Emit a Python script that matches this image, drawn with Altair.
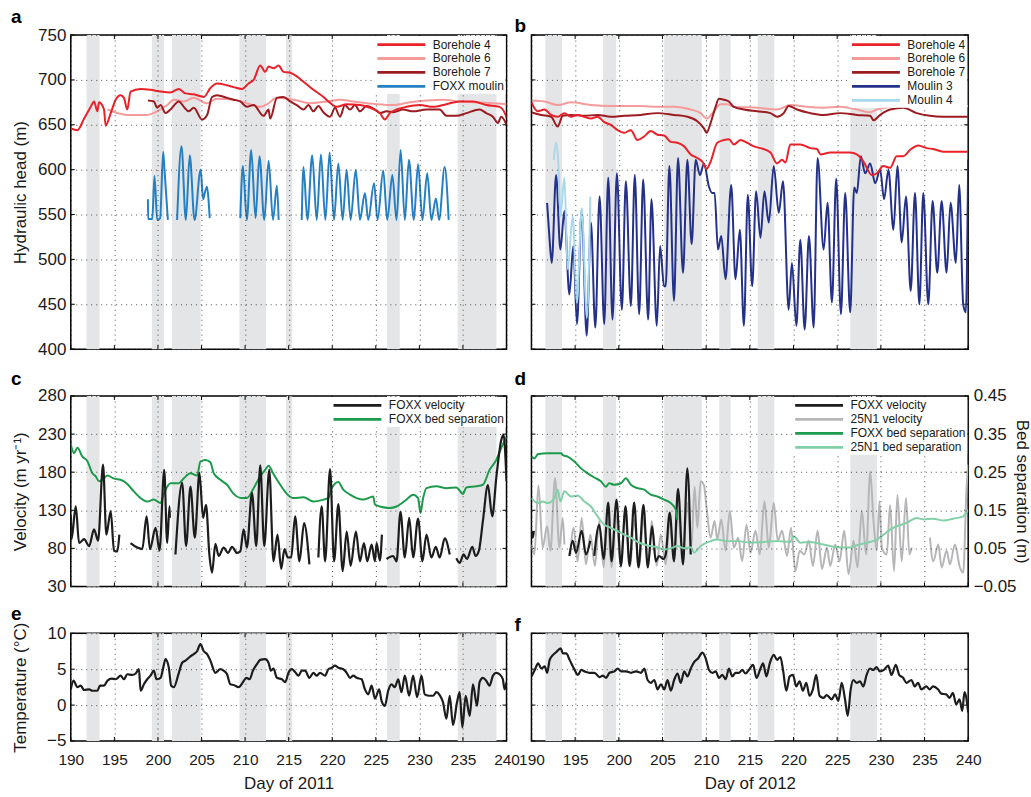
import altair as alt
import pandas as pd

FONT = "Liberation Sans"

# ---------------- axis ticks ----------------
X_TICKS = [190, 195, 200, 205, 210, 215, 220, 225, 230, 235, 240]
HEAD_TICKS = [400, 450, 500, 550, 600, 650, 700, 750]
VEL_TICKS = [30, 80, 130, 180, 230, 280]
BS_TICKS = [-0.05, 0.05, 0.15, 0.25, 0.35, 0.45]
TEMP_TICKS = [-5, 0, 5, 10]

# ---------------- shaded periods ----------------
BAND11_START = [191.8, 199.3, 201.6, 209.35, 214.7, 226.3, 234.4]
BAND11_END = [193.3, 200.7, 204.9, 212.4, 215.4, 227.75, 238.85]
BAND12_START = [191.6, 198.2, 205.2, 211.5, 215.9, 226.5]
BAND12_END = [193.5, 199.7, 209.5, 212.8, 217.8, 229.55]

# ---------------- panel a (2011 hydraulic head) ----------------
B4_2011 = [(190.0, 646), (190.76, 644), (191.53, 657), (192.29, 670), (192.67, 676), (193.05, 665), (193.24, 675),
           (193.81, 667), (194.0, 649), (194.58, 663), (195.15, 678), (195.72, 683), (196.1, 680), (196.48, 667),
           (196.86, 687), (198.0, 690), (199.15, 689), (200.3, 687), (201.44, 686), (202.4, 690), (203.16, 685),
           (204.11, 684), (205.26, 681), (206.02, 691), (206.78, 696), (207.93, 694), (208.69, 692), (209.64, 690),
           (210.4, 696), (210.98, 700), (211.74, 716), (212.31, 709), (212.69, 715), (213.26, 713), (213.84, 716),
           (214.41, 709), (215.17, 708), (215.93, 704), (216.7, 698), (217.84, 689), (218.99, 681), (219.56, 676),
           (220.51, 670), (221.66, 673), (223.18, 672), (224.32, 669), (225.47, 663), (226.04, 656), (226.61, 663),
           (227.38, 667), (228.52, 670), (230.05, 672), (231.57, 670), (233.1, 673), (234.62, 676), (236.15, 676),
           (237.67, 672), (239.2, 670), (239.89, 661), (240.0, 658)]
B6_2011 = [(194.2, 667), (196.48, 661), (198.77, 661), (199.92, 665), (201.06, 672), (201.82, 678), (202.97, 676),
           (204.11, 680), (205.64, 674), (206.78, 679), (208.69, 678), (210.21, 674), (211.74, 670), (212.69, 674),
           (213.65, 680), (215.55, 678), (217.46, 674), (219.37, 676), (220.89, 678), (222.42, 676), (225.09, 673),
           (226.99, 672), (228.9, 675), (230.81, 677), (232.72, 678), (234.62, 676), (236.53, 675), (240.0, 673)]
B7_2011 = [(198.85, 677), (199.53, 676), (199.92, 669), (200.3, 672), (200.87, 663), (201.44, 667), (202.4, 676),
           (202.97, 670), (203.54, 665), (204.11, 669), (205.06, 656), (205.64, 661), (206.21, 681), (206.78, 683),
           (207.93, 680), (208.69, 678), (209.45, 676), (210.21, 670), (210.98, 672), (212.12, 660), (212.69, 667),
           (212.88, 657), (213.65, 680), (214.41, 681), (215.17, 676), (215.93, 672), (216.7, 667), (217.27, 672),
           (217.84, 665), (218.41, 671), (218.99, 664), (219.75, 659), (220.32, 669), (220.89, 659), (221.46, 672),
           (222.04, 667), (222.61, 672), (223.18, 665), (223.94, 671), (224.9, 667), (225.47, 663), (226.23, 665),
           (226.99, 664), (228.14, 667), (229.28, 665), (230.81, 667), (232.33, 667), (233.1, 660), (234.24, 660),
           (235.39, 663), (236.91, 667), (237.67, 663), (238.44, 659), (239.01, 652), (239.39, 659), (240.0, 650)]
FOXX_MOULIN_2011 = [
    [(198.85, 567), (198.87, 545), (199.35, 545), (199.6, 593), (199.92, 544), (200.25, 546), (200.6, 620),
     (200.75, 600), (201.14, 544)],
    [(202.2, 544), (202.7, 626), (203.2, 544), (203.65, 616), (204.2, 544), (204.9, 600), (205.18, 567),
     (205.4, 575), (205.64, 581), (205.83, 563), (205.94, 546)],
    [(209.45, 546), (209.75, 604), (210.2, 544), (210.7, 622), (211.2, 546), (211.65, 615), (212.2, 544),
     (212.7, 610), (213.2, 544), (213.65, 582), (213.85, 544)],
    [(216.5, 544), (216.7, 603), (217.15, 544), (217.7, 616), (218.22, 544), (218.7, 617), (219.21, 544),
     (219.7, 619), (220.2, 544), (220.7, 607), (221.2, 544), (221.65, 600), (222.11, 544), (222.7, 600),
     (223.18, 544), (223.75, 574), (224.13, 544), (224.8, 585), (225.2, 544), (225.85, 599), (226.31, 544),
     (226.9, 594), (227.38, 544), (227.85, 622), (228.33, 544), (228.8, 611), (229.36, 544), (229.85, 606),
     (230.35, 544), (230.9, 596), (231.38, 544), (231.9, 568), (232.26, 544), (232.9, 603), (233.36, 544)],
]

# ---------------- panel b (2012 hydraulic head) ----------------
B4_2012 = [(190.0, 675), (190.72, 665), (191.48, 667), (192.25, 661), (193.0, 659), (193.77, 663), (194.53, 659),
           (195.29, 661), (196.05, 659), (196.81, 657), (197.57, 659), (198.33, 653), (199.09, 650), (199.86, 644),
           (200.62, 641), (201.38, 644), (202.14, 633), (202.9, 637), (203.66, 643), (204.42, 639), (205.18, 638),
           (205.94, 631), (206.7, 630), (207.47, 626), (208.23, 617), (208.99, 613), (209.56, 609), (210.05, 601),
           (210.51, 609), (211.27, 630), (212.03, 633), (212.6, 634), (213.17, 628), (213.93, 633), (214.7, 630),
           (215.46, 626), (216.22, 624), (217.36, 619), (218.12, 607), (218.69, 611), (219.07, 608), (219.64, 628),
           (220.78, 628), (221.93, 624), (222.69, 623), (223.07, 617), (224.21, 619), (225.35, 619), (226.49, 619),
           (227.25, 617), (228.01, 609), (228.97, 594), (229.54, 596), (230.3, 604), (231.06, 602), (231.82, 615),
           (232.58, 615), (233.34, 622), (234.29, 627), (235.24, 624), (236.0, 623), (237.15, 620), (238.67, 620),
           (240.0, 620)]
B6_2012 = [(190.0, 677), (191.48, 676), (193.01, 672), (194.53, 675), (196.81, 672), (199.09, 671), (202.52, 671),
           (204.42, 670), (206.32, 670), (208.23, 667), (209.37, 663), (210.05, 657), (210.89, 665), (211.65, 673),
           (212.41, 673), (213.17, 670), (215.84, 669), (218.12, 667), (219.64, 672), (221.55, 670), (223.45, 669),
           (225.35, 670), (227.25, 667), (228.78, 664), (229.54, 667), (231.06, 670), (232.96, 673), (234.86, 672),
           (236.77, 671), (240.0, 671)]
B7_2012 = [(190.0, 664), (191.1, 661), (192.25, 659), (193.0, 648), (193.58, 660), (194.53, 661), (196.05, 660),
           (197.57, 661), (199.09, 659), (200.62, 660), (202.52, 661), (204.42, 663), (206.32, 661), (207.85, 659),
           (208.99, 654), (209.75, 646), (210.05, 641), (210.51, 652), (211.08, 670), (211.46, 679), (212.03, 678),
           (212.6, 676), (213.17, 670), (214.32, 667), (215.84, 665), (217.36, 663), (218.12, 659), (218.88, 663),
           (219.45, 671), (220.4, 667), (221.93, 663), (223.45, 661), (225.35, 663), (227.25, 661), (228.78, 660),
           (229.16, 655), (229.92, 661), (231.06, 667), (232.58, 669), (234.1, 663), (235.62, 660), (237.15, 659),
           (240.0, 659)]
MOULIN3_2012 = [(191.79, 563), (192.05, 526), (192.32, 496), (192.82, 594), (193.31, 511), (193.77, 554),
                (194.34, 461), (194.79, 515), (195.21, 428), (195.75, 555), (196.32, 415), (196.81, 541),
                (197.31, 424), (197.8, 570), (198.33, 428), (198.79, 591), (199.28, 433), (199.78, 596),
                (200.35, 444), (200.81, 587), (201.38, 448), (201.83, 594), (202.33, 439), (202.79, 589),
                (203.36, 433), (203.74, 567), (204.35, 426), (204.73, 515), (205.18, 470), (205.37, 470),
                (205.79, 604), (206.32, 454), (206.78, 613), (207.35, 485), (207.85, 611), (208.34, 517),
                (208.8, 611), (209.29, 594), (209.75, 607), (210.32, 581), (210.7, 574), (210.97, 574),
                (211.35, 511), (211.73, 526), (212.22, 478), (212.87, 583), (213.36, 478), (213.86, 533),
                (214.32, 426), (214.77, 572), (215.27, 470), (215.72, 576), (216.22, 524), (216.67, 576),
                (217.17, 541), (217.74, 604), (218.31, 552), (218.8, 587), (219.45, 444), (219.82, 496),
                (220.33, 426), (220.78, 522), (221.28, 422), (221.77, 526), (222.31, 424), (222.76, 613),
                (223.45, 511), (223.9, 563), (224.4, 452), (224.89, 590), (225.43, 439), (225.92, 574),
                (226.49, 441), (226.95, 580), (227.25, 574), (227.71, 615), (228.2, 596), (228.78, 607),
                (229.35, 585), (229.92, 600), (230.37, 567), (230.87, 600), (231.44, 533), (231.9, 604),
                (232.39, 519), (232.88, 570), (233.42, 465), (233.91, 574), (234.41, 450), (234.86, 574),
                (235.43, 450), (235.93, 565), (236.46, 485), (236.96, 565), (237.53, 485), (237.98, 563),
                (238.59, 496), (238.97, 583), (239.43, 450), (239.73, 441), (240.0, 611)]
MOULIN4_2012 = [(192.55, 611), (192.82, 630), (193.08, 607), (193.31, 548), (193.77, 591), (194.15, 489),
                (194.72, 548), (195.21, 452), (195.75, 557), (196.35, 435), (196.74, 570)]

# ---------------- panel c (2011 velocity / bed separation) ----------------
FOXX_VEL_2011 = [
    [(190.0, 124), (190.08, 92), (190.57, 135), (190.95, 87), (191.53, 92), (192.1, 83), (192.67, 105),
     (193.13, 90), (193.7, 190), (194.08, 98), (194.58, 129), (194.96, 77), (195.34, 76), (195.57, 98)],
    [(196.86, 87), (197.63, 81), (198.2, 79), (198.7, 122), (199.08, 79), (199.73, 107), (200.18, 77),
     (200.72, 183), (201.06, 87), (201.33, 135), (201.37, 120)],
    [(202.01, 72), (202.78, 166), (203.23, 83), (203.73, 161), (204.23, 94), (204.76, 179), (205.18, 120),
     (205.52, 137), (205.9, 72), (206.21, 48), (206.59, 86), (206.97, 70), (207.54, 81), (208.04, 74),
     (208.5, 82), (209.07, 74), (209.45, 76), (209.83, 105), (210.21, 81), (210.79, 153), (211.28, 83),
     (211.74, 189), (212.2, 83), (212.77, 183), (213.26, 63), (213.72, 98), (214.14, 53), (214.52, 79),
     (214.9, 68), (215.29, 68), (215.74, 122), (216.24, 63), (216.77, 113), (217.38, 59)],
    [(218.41, 68), (218.79, 135), (219.18, 63), (219.75, 184), (220.21, 63), (220.7, 138), (221.2, 50),
     (221.66, 102), (222.11, 57), (222.72, 102), (223.18, 63), (223.64, 87), (224.02, 63), (224.52, 85),
     (224.9, 63), (225.09, 87), (225.47, 64), (225.7, 98)],
    [(226.23, 66), (226.99, 70), (227.38, 63), (227.83, 128), (228.33, 68), (228.83, 120), (229.28, 68),
     (229.85, 119), (230.35, 63), (230.81, 98), (231.38, 68), (231.88, 82), (232.33, 68), (232.91, 93),
     (233.48, 72)],
    [(234.24, 67), (234.62, 61), (235.08, 72), (235.46, 66), (236.07, 82), (236.45, 70), (236.83, 77),
     (237.29, 116), (237.86, 163), (238.36, 122), (238.82, 172), (239.39, 222), (239.66, 229), (240.0, 168)],
]
FOXX_BS_2011 = [(190.0, 0.323), (190.38, 0.300), (190.76, 0.314), (191.33, 0.291), (191.91, 0.279), (192.48, 0.247),
                (192.86, 0.239), (193.24, 0.226), (193.62, 0.230), (194.2, 0.241), (194.96, 0.233), (195.72, 0.230),
                (196.48, 0.219), (197.06, 0.204), (198.01, 0.182), (198.77, 0.173), (199.53, 0.178), (200.3, 0.169),
                (200.68, 0.193), (201.44, 0.221), (202.4, 0.221), (202.97, 0.234), (203.73, 0.247), (204.49, 0.241),
                (204.87, 0.278), (205.45, 0.282), (206.02, 0.276), (206.4, 0.247), (207.16, 0.230), (207.93, 0.217),
                (208.69, 0.193), (209.64, 0.182), (210.21, 0.182), (210.98, 0.208), (211.74, 0.239), (212.31, 0.256),
                (212.69, 0.267), (213.26, 0.245), (214.03, 0.217), (214.79, 0.193), (215.55, 0.182), (216.7, 0.184),
                (217.84, 0.173), (218.99, 0.178), (219.56, 0.182), (219.94, 0.208), (220.7, 0.224), (221.27, 0.204),
                (222.04, 0.191), (222.8, 0.182), (223.56, 0.178), (224.71, 0.186), (224.9, 0.165), (225.47, 0.160),
                (226.61, 0.156), (227.38, 0.160), (228.52, 0.178), (229.28, 0.191), (229.85, 0.182), (230.12, 0.143),
                (230.43, 0.182), (230.81, 0.208), (231.95, 0.213), (233.1, 0.208), (234.24, 0.210), (235.0, 0.193),
                (235.39, 0.210), (236.53, 0.213), (237.29, 0.217), (238.05, 0.256), (238.82, 0.282), (239.39, 0.313),
                (240.0, 0.343)]

# ---------------- panel d (2012 velocity / bed separation) ----------------
FOXX_VEL_2012 = [
    [(190.0, 103), (190.15, 94), (190.27, 103)],
    [(194.34, 70), (194.72, 90), (195.1, 74), (195.75, 103), (196.24, 72), (196.74, 90)],
    [(197.19, 70), (197.76, 111), (198.26, 66), (198.79, 140), (199.17, 63), (199.74, 144), (200.24, 57),
     (200.77, 135), (201.23, 57), (201.76, 140), (202.25, 55), (202.82, 137), (203.32, 55), (203.81, 109),
     (204.23, 63), (204.61, 70), (205.11, 66), (205.37, 72), (205.83, 127), (206.32, 63), (206.78, 158),
     (207.35, 59), (207.85, 185), (208.23, 72)],
]
N25_VEL_2012 = [
    [(190.0, 85), (190.34, 72), (190.8, 163), (191.29, 81), (191.79, 109), (192.17, 77), (192.7, 172),
     (193.2, 81), (193.58, 120), (193.77, 85)],
    [(194.45, 72), (194.83, 107), (195.29, 63), (195.75, 120), (196.24, 59), (196.74, 98), (197.27, 57),
     (197.76, 116), (198.26, 55), (198.71, 118), (199.17, 55), (199.67, 124), (200.24, 55), (200.69, 124),
     (201.3, 56), (201.76, 118), (202.33, 55), (202.82, 120), (203.36, 55), (203.77, 116), (204.35, 57),
     (204.8, 98), (205.37, 59), (205.83, 116), (206.32, 66), (206.78, 129), (207.28, 72), (207.85, 140),
     (208.3, 81), (208.68, 161), (208.99, 107), (209.37, 168), (209.75, 163), (210.05, 133), (210.51, 94),
     (210.97, 116), (211.27, 92), (211.73, 118), (212.22, 77), (212.72, 129), (213.17, 81), (213.67, 94),
     (214.12, 63), (214.62, 111), (215.08, 74), (215.65, 103), (216.14, 72), (216.67, 142), (217.17, 81),
     (217.74, 140), (218.2, 90), (218.69, 103), (219.26, 70), (219.72, 107), (220.21, 50), (220.71, 77),
     (221.24, 72), (221.74, 90), (222.23, 57), (222.76, 103), (223.26, 53), (223.83, 81), (224.21, 57),
     (224.78, 85), (225.27, 63), (225.81, 103), (226.3, 46), (226.87, 90), (227.33, 55), (227.82, 129),
     (228.32, 72), (228.78, 181), (229.16, 116), (229.54, 77), (229.84, 142), (230.11, 81), (230.68, 72),
     (231.06, 137), (231.51, 50), (231.9, 150), (232.39, 63), (232.88, 146), (233.27, 72), (233.53, 81)],
    [(235.62, 94), (236.0, 63), (236.58, 85), (236.96, 55), (237.53, 77), (237.91, 59), (238.48, 85),
     (239.05, 55), (239.43, 48), (239.81, 159), (240.0, 190)],
]
FOXX_BS_2012 = [(190.0, 0.291), (190.34, 0.286), (190.72, 0.297), (191.86, 0.300), (193.39, 0.300), (193.58, 0.295),
                (194.15, 0.291), (194.91, 0.278), (195.67, 0.260), (196.43, 0.247), (197.19, 0.236), (197.95, 0.226),
                (198.52, 0.212), (198.9, 0.221), (199.47, 0.217), (200.24, 0.221), (200.81, 0.234), (201.38, 0.217),
                (202.14, 0.208), (202.9, 0.204), (203.66, 0.191), (204.42, 0.186), (205.18, 0.178), (205.94, 0.169),
                (206.51, 0.152), (206.7, 0.125)]
N25_BS_2012 = [(190.0, 0.182), (190.72, 0.169), (191.29, 0.173), (191.86, 0.169), (192.63, 0.182), (193.01, 0.204),
               (193.31, 0.173), (193.77, 0.200), (194.53, 0.186), (195.29, 0.189), (196.05, 0.173), (196.81, 0.160),
               (197.57, 0.134), (198.33, 0.112), (199.09, 0.104), (199.86, 0.095), (200.62, 0.086), (201.38, 0.078),
               (202.14, 0.067), (202.9, 0.060), (203.66, 0.056), (204.42, 0.053), (205.18, 0.047), (205.94, 0.050),
               (206.7, 0.056), (207.47, 0.050), (208.23, 0.053), (208.61, 0.039), (209.37, 0.056), (210.51, 0.069),
               (211.27, 0.073), (212.41, 0.069), (213.55, 0.069), (215.08, 0.065), (216.6, 0.067), (218.12, 0.069),
               (219.64, 0.067), (220.02, 0.082), (220.78, 0.065), (221.93, 0.067), (223.45, 0.060), (224.97, 0.053),
               (226.49, 0.052), (227.25, 0.058), (228.39, 0.065), (229.54, 0.073), (230.3, 0.086), (231.06, 0.099),
               (231.82, 0.108), (232.96, 0.117), (234.1, 0.130), (234.86, 0.126), (236.0, 0.128), (237.15, 0.123),
               (238.29, 0.128), (239.43, 0.134), (240.0, 0.152)]

# ---------------- panels e, f (air temperature) ----------------
TEMP_2011 = [(190.0, 2.2), (190.31, 3.4), (190.76, 2.5), (191.14, 2.7), (191.53, 2.1), (192.1, 2.2), (192.48, 2.0),
             (193.05, 2.0), (193.36, 2.7), (193.81, 2.7), (194.2, 3.4), (194.69, 3.7), (195.15, 3.6), (195.72, 4.1),
             (196.1, 3.6), (196.48, 4.3), (197.06, 4.2), (197.44, 4.4), (197.82, 5.0), (198.01, 2.0), (198.39, 2.9),
             (198.77, 3.6), (199.15, 4.1), (199.53, 4.8), (199.84, 3.6), (200.3, 3.8), (200.68, 5.6), (200.87, 6.4),
             (201.25, 5.2), (201.52, 2.7), (201.82, 2.5), (202.4, 4.5), (202.78, 5.9), (203.16, 6.2), (203.73, 6.8),
             (204.11, 7.1), (204.49, 7.5), (204.87, 8.5), (205.26, 7.5), (205.64, 7.1), (206.02, 6.2), (206.59, 4.5),
             (207.16, 5.0), (207.54, 4.8), (207.93, 4.3), (208.31, 2.9), (208.69, 2.8), (209.26, 2.5), (209.76, 3.2),
             (210.14, 3.8), (210.52, 3.6), (210.9, 4.8), (211.36, 5.7), (211.74, 6.3), (212.31, 6.4), (212.69, 5.9),
             (212.96, 4.8), (213.26, 5.1), (213.65, 3.8), (214.22, 3.6), (214.6, 3.2), (214.98, 4.5), (215.36, 5.0),
             (215.74, 4.6), (216.13, 4.1), (216.51, 4.8), (216.89, 4.8), (217.38, 3.8), (217.84, 4.5), (218.22, 4.1),
             (218.6, 4.5), (219.18, 4.1), (219.56, 5.0), (219.94, 5.2), (220.32, 5.5), (220.7, 5.2), (221.27, 5.0),
             (221.66, 4.5), (222.04, 3.8), (222.42, 4.1), (222.8, 3.8), (223.37, 3.6), (223.75, 2.2), (224.13, 1.5),
             (224.52, 2.7), (224.9, 0.9), (225.39, 2.2), (225.66, 0.6), (226.04, -0.1), (226.42, 2.0), (226.8, 2.9),
             (227.18, 2.5), (227.57, 3.6), (227.95, 1.8), (228.33, 4.1), (228.83, 1.3), (229.28, 4.1), (229.74, 1.1),
             (230.24, 4.1), (230.62, 1.5), (231.19, 1.3), (231.57, 1.3), (231.95, 1.8), (232.33, 1.4), (232.71, 0.4),
             (233.1, -1.9), (233.48, 1.3), (233.86, -2.8), (234.32, 0.4), (234.62, 1.8), (234.93, -3.1), (235.31, 1.3),
             (235.77, -1.5), (236.15, 2.9), (236.61, -0.1), (236.91, 3.2), (237.29, 3.8), (237.67, 3.4), (238.05, 2.7),
             (238.44, 4.1), (238.82, 4.5), (239.2, 4.3), (239.58, 3.6), (239.77, 2.2), (240.0, 3.2)]
TEMP_2012 = [(190.0, 4.0), (190.38, 4.9), (190.76, 5.8), (191.14, 5.1), (191.52, 5.4), (191.79, 4.5), (192.09, 6.3),
             (192.47, 7.0), (192.85, 7.4), (193.34, 7.9), (193.61, 7.2), (193.99, 7.2), (194.37, 6.3), (194.94, 4.9),
             (195.32, 4.2), (195.7, 4.9), (196.08, 4.7), (196.65, 4.5), (197.22, 4.5), (197.79, 3.9), (198.17, 4.1),
             (198.55, 3.8), (198.93, 4.5), (199.5, 4.7), (199.88, 5.1), (200.26, 4.7), (200.83, 4.7), (201.4, 4.5),
             (201.97, 4.7), (202.54, 4.5), (202.92, 5.1), (203.3, 3.5), (203.68, 3.1), (204.06, 3.5), (204.44, 2.2),
             (204.82, 2.9), (205.2, 2.2), (205.58, 3.5), (205.96, 2.0), (206.34, 3.5), (206.72, 4.4), (207.1, 3.1),
             (207.48, 4.7), (207.86, 4.0), (208.24, 5.1), (208.62, 6.0), (209.07, 6.5), (209.57, 7.3), (209.95, 6.5),
             (210.33, 4.9), (210.71, 4.5), (211.09, 4.7), (211.47, 3.8), (211.85, 4.2), (212.23, 3.6), (212.61, 5.1),
             (212.99, 4.0), (213.37, 4.5), (213.75, 4.5), (214.13, 4.9), (214.51, 4.4), (214.89, 4.9), (215.38, 5.6),
             (215.76, 3.8), (216.22, 5.1), (216.52, 5.8), (216.9, 4.0), (217.28, 5.8), (217.74, 7.0), (218.12, 6.3),
             (218.5, 6.7), (218.8, 4.9), (219.18, 2.0), (219.56, 4.0), (219.94, 4.2), (220.32, 2.6), (220.7, 3.3),
             (221.08, 2.0), (221.46, 3.1), (221.84, 1.3), (222.22, 2.2), (222.6, 4.2), (222.98, 1.3), (223.43, 1.0),
             (223.81, 1.4), (224.38, 0.8), (224.76, 1.5), (225.14, 0.6), (225.52, 3.1), (225.9, 0.8), (226.21, -1.5),
             (226.55, 2.2), (226.85, 3.5), (227.23, 3.1), (227.61, 3.3), (227.99, 2.6), (228.37, 4.2), (228.75, 5.1),
             (229.13, 4.9), (229.51, 5.3), (229.89, 4.7), (230.35, 4.9), (230.84, 5.5), (231.22, 4.2), (231.72, 5.6),
             (232.1, 4.2), (232.55, 3.8), (232.93, 3.1), (233.5, 3.5), (233.88, 2.6), (234.26, 3.1), (234.64, 2.2),
             (235.21, 2.6), (235.59, 2.2), (235.97, 2.6), (236.54, 2.2), (236.92, 1.6), (237.49, 1.5), (237.87, 1.0),
             (238.25, 1.7), (238.63, 0.1), (239.01, 0.8), (239.32, -0.8), (239.58, 1.8), (240.0, -1.0)]

# ---------------- styling ----------------
BAND_COLOR = "#e4e5e6"
C_B4, C_B6, C_B7 = "#ea2129", "#f59b9c", "#9c1b20"
C_FOXXM, C_M3, C_M4 = "#2580c3", "#24318b", "#a8d8ee"
C_FVEL, C_NVEL, C_FBS, C_NBS = "#1c1c1c", "#b6b6b8", "#1b9b4b", "#82d0a8"

W_L, W_R = 437, 438
H1, H2, H3 = 315, 191, 108
TICK_LEN = 4

xscale = alt.Scale(domain=[190, 240], nice=False, zero=False)
head_scale = alt.Scale(domain=[400, 750], nice=False, zero=False)
vel_scale = alt.Scale(domain=[30, 280], nice=False, zero=False)
bs_scale = alt.Scale(domain=[-0.05, 0.45], nice=False, zero=False)
temp_scale = alt.Scale(domain=[-5, 10], nice=False, zero=False)


def to_df(data, series):
    """data: list of (day, value) pairs, or a list of such lists (segments)."""
    segs = data if isinstance(data[0], list) else [data]
    rows = []
    for i, seg in enumerate(segs):
        for d, v in seg:
            rows.append({"day": d, "value": v, "series": series, "seg": f"{series}-{i}"})
    return pd.DataFrame(rows)


def x_axis(year=None):
    if year is None:
        return alt.Axis(values=X_TICKS, grid=True, labels=False, ticks=False, domain=False, title=None, zindex=1)
    return alt.Axis(values=X_TICKS, grid=True, labels=True, ticks=False, domain=False, labelFlush=False,
                    labelFontSize=15.5, title=f"Day of {year}", labelPadding=12, titlePadding=7, zindex=1)


def y_axis(values, title=None, labels=True, orient="left", grid=True, fmt=None, title_x=None):
    kw = dict(values=values, grid=grid, labels=labels, ticks=False, domain=False, orient=orient, zindex=1,
              labelPadding=5, labelFlush=False)
    if title is None:
        kw["title"] = None
    else:
        kw["title"] = title
        if title_x is not None:
            kw["titleX"] = title_x
    if fmt is not None:
        kw["format"] = fmt
    return alt.Axis(**kw)


def legend(offset=1):
    return alt.Legend(title=None, orient="top-right", offset=offset, fillColor="white", padding=1,
                      symbolType="M-4,0L4,0", symbolSize=144, symbolOffset=18, labelOffset=24,
                      symbolStrokeWidth=2.8, labelFontSize=12, labelFont=FONT, labelColor="#1a1a1a",
                      rowPadding=0, zindex=2)


def bands(starts, ends, h, xax):
    df = pd.DataFrame({"start": starts, "end": ends})
    return alt.Chart(df).mark_rect(color=BAND_COLOR).encode(
        x=alt.X("start:Q", scale=xscale, axis=xax), x2="end:Q",
        y=alt.value(0), y2=alt.value(h))


def x_ticks(h, xax):
    """Short inward tick marks on the top and bottom frame, at the x tick values."""
    df = pd.DataFrame({"t": X_TICKS})
    base = alt.Chart(df).mark_rule(color="black", strokeWidth=1)
    bottom = base.encode(x=alt.X("t:Q", scale=xscale, axis=xax), y=alt.value(h - TICK_LEN), y2=alt.value(h))
    top = base.encode(x=alt.X("t:Q", scale=xscale, axis=xax), y=alt.value(0), y2=alt.value(TICK_LEN))
    return alt.layer(bottom, top)


def y_ticks(ticks, yscale, yax, w):
    """Short inward tick marks on the left and right frame, at the y tick values."""
    df = pd.DataFrame({"t": ticks})
    base = alt.Chart(df).mark_rule(color="black", strokeWidth=1)
    left = base.encode(y=alt.Y("t:Q", scale=yscale, axis=yax), x=alt.value(0), x2=alt.value(TICK_LEN))
    right = base.encode(y=alt.Y("t:Q", scale=yscale, axis=yax), x=alt.value(w - TICK_LEN), x2=alt.value(w))
    return alt.layer(left, right)


def line(df, xax, yscale, yax, color, width=2.0):
    return alt.Chart(df).mark_line(strokeWidth=width, clip=True, strokeJoin="round",
                                   interpolate="monotone").encode(
        x=alt.X("day:Q", scale=xscale, axis=xax),
        y=alt.Y("value:Q", scale=yscale, axis=yax),
        color=color,
        detail="seg:N")


def title(letter, dx, offset):
    return alt.TitleParams(letter, anchor="start", frame="group", dx=dx, offset=offset, fontSize=19,
                           fontWeight="bold", font=FONT, color="black")


# ---------------- panel a ----------------
xa = x_axis()
ya = y_axis(HEAD_TICKS, title="Hydraulic head (m)", title_x=-41)
col_a = alt.Color("series:N", scale=alt.Scale(domain=["Borehole 4", "Borehole 6", "Borehole 7", "FOXX moulin"],
                                              range=[C_B4, C_B6, C_B7, C_FOXXM]), legend=legend())
pa = alt.layer(
    bands(BAND11_START, BAND11_END, H1, xa),
    x_ticks(H1, xa),
    y_ticks(HEAD_TICKS, head_scale, ya, W_L),
    line(to_df(FOXX_MOULIN_2011, "FOXX moulin"), xa, head_scale, ya, col_a),
    line(to_df(B6_2011, "Borehole 6"), xa, head_scale, ya, col_a),
    line(to_df(B7_2011, "Borehole 7"), xa, head_scale, ya, col_a),
    line(to_df(B4_2011, "Borehole 4"), xa, head_scale, ya, col_a),
).properties(width=W_L, height=H1, title=title("a", -60, -1))

# ---------------- panel b ----------------
xb = x_axis()
yb = y_axis(HEAD_TICKS, labels=False)
col_b = alt.Color("series:N", scale=alt.Scale(
    domain=["Borehole 4", "Borehole 6", "Borehole 7", "Moulin 3", "Moulin 4"],
    range=[C_B4, C_B6, C_B7, C_M3, C_M4]), legend=legend())
pb = alt.layer(
    bands(BAND12_START, BAND12_END, H1, xb),
    x_ticks(H1, xb),
    y_ticks(HEAD_TICKS, head_scale, yb, W_R),
    line(to_df(MOULIN3_2012, "Moulin 3"), xb, head_scale, yb, col_b),
    line(to_df(MOULIN4_2012, "Moulin 4"), xb, head_scale, yb, col_b),
    line(to_df(B6_2012, "Borehole 6"), xb, head_scale, yb, col_b),
    line(to_df(B7_2012, "Borehole 7"), xb, head_scale, yb, col_b),
    line(to_df(B4_2012, "Borehole 4"), xb, head_scale, yb, col_b),
).properties(width=W_R, height=H1, title=title("b", -17, -1))

# ---------------- panel c ----------------
xc = x_axis()
yc = y_axis(VEL_TICKS, title="Velocity (m yr\u207b\u00b9)", title_x=-41)
col_c = alt.Color("series:N", scale=alt.Scale(domain=["FOXX velocity", "FOXX bed separation"],
                                              range=[C_FVEL, C_FBS]), legend=legend())
vel_c = alt.layer(
    y_ticks(VEL_TICKS, vel_scale, yc, W_L),
    line(to_df(FOXX_VEL_2011, "FOXX velocity"), xc, vel_scale, yc, col_c, width=2.2),
)
pc = alt.layer(
    bands(BAND11_START, BAND11_END, H2, xc),
    x_ticks(H2, xc),
    line(to_df(FOXX_BS_2011, "FOXX bed separation"), xc, bs_scale, None, col_c),
    vel_c,
).resolve_scale(y="independent").properties(width=W_L, height=H2, title=title("c", -60, -2))

# ---------------- panel d ----------------
xd = x_axis()
yd = y_axis(VEL_TICKS, labels=False)
yd_bs = y_axis(BS_TICKS, title="Bed separation (m)", orient="right", grid=False, fmt=".2f", title_x=44)
col_d = alt.Color("series:N", scale=alt.Scale(
    domain=["FOXX velocity", "25N1 velocity", "FOXX bed separation", "25N1 bed separation"],
    range=[C_FVEL, C_NVEL, C_FBS, C_NBS]), legend=legend())
vel_d = alt.layer(
    y_ticks(VEL_TICKS, vel_scale, yd, W_R),
    line(to_df(N25_VEL_2012, "25N1 velocity"), xd, vel_scale, yd, col_d),
    line(to_df(FOXX_VEL_2012, "FOXX velocity"), xd, vel_scale, yd, col_d, width=2.2),
)
bs_d = alt.layer(
    line(to_df(N25_BS_2012, "25N1 bed separation"), xd, bs_scale, yd_bs, col_d),
    line(to_df(FOXX_BS_2012, "FOXX bed separation"), xd, bs_scale, yd_bs, col_d),
)
pd_ = alt.layer(bands(BAND12_START, BAND12_END, H2, xd), x_ticks(H2, xd), vel_d, bs_d).resolve_scale(
    y="independent").properties(width=W_R, height=H2, title=title("d", -17, -2))

# ---------------- panel e ----------------
xe = x_axis(2011)
ye = y_axis(TEMP_TICKS, title="Temperature (\u00b0C)", title_x=-41)
pe = alt.layer(
    bands(BAND11_START, BAND11_END, H3, xe),
    x_ticks(H3, xe),
    y_ticks(TEMP_TICKS, temp_scale, ye, W_L),
    line(to_df(TEMP_2011, "Temperature"), xe, temp_scale, ye, alt.value("#1c1c1c"), width=2.2),
).properties(width=W_L, height=H3, title=title("e", -60, -2))

# ---------------- panel f ----------------
xf = x_axis(2012)
yf = y_axis(TEMP_TICKS, labels=False)
pf = alt.layer(
    bands(BAND12_START, BAND12_END, H3, xf),
    x_ticks(H3, xf),
    y_ticks(TEMP_TICKS, temp_scale, yf, W_R),
    line(to_df(TEMP_2012, "Temperature"), xf, temp_scale, yf, alt.value("#1c1c1c"), width=2.2),
).properties(width=W_R, height=H3, title=title("f", -17, -2))

chart = alt.concat(
    pa, pb, pc, pd_, pe, pf, columns=2,
    spacing=alt.RowColnumber(row=47, column=25), bounds="flush",
).resolve_scale(color="independent").resolve_legend(color="independent").configure_view(
    stroke="black", strokeWidth=1.5
).configure_axis(
    labelFont=FONT, titleFont=FONT, labelFontSize=17, titleFontSize=17, titleFontWeight="normal",
    labelColor="#1a1a1a", titleColor="#1a1a1a", gridColor="#333333", gridDash=[1, 4], gridOpacity=0.85,
    gridWidth=1
).properties(padding={"left": 10, "top": 6, "right": 0, "bottom": 0}, background="white")

chart.save("out.html", embed_options={"renderer": "svg", "actions": False})
